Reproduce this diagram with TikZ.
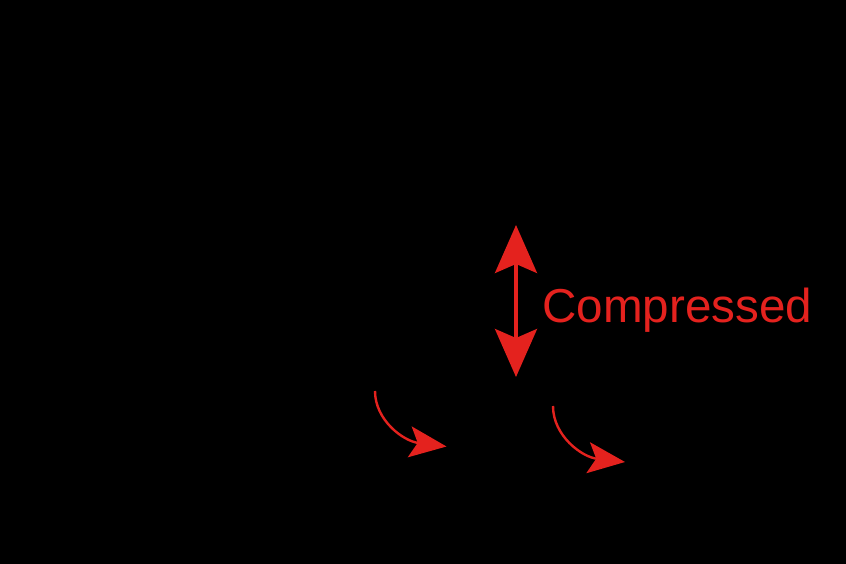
\documentclass[tikz,border=0pt]{standalone}
\usepackage{fontspec}
\setmainfont{Liberation Sans}
\usetikzlibrary{arrows.meta}
\definecolor{myred}{RGB}{228,34,30}
\tikzset{
  bigarrow/.style={draw=myred, line width=3.5pt, {Stealth[length=48pt,width=42pt,inset=9pt]}-{Stealth[length=48pt,width=42pt,inset=9pt]}},
  curvearrow/.style={draw=myred, line width=2.4pt, -{Stealth[length=37pt,width=31pt,inset=8pt]}},
  label/.style={text=myred, anchor=base west, inner sep=0pt, font=\fontsize{47.6}{56}\selectfont}
}
\begin{document}
\begin{tikzpicture}[x=1pt,y=-1pt]
\fill[black] (0,0) rectangle (846,564);
\useasboundingbox (0,0) rectangle (846,564);
\coordinate (dt) at (516,225);
\coordinate (db) at (516,377);
\draw[bigarrow] (dt) -- (db);
\node[label] (comp) at (542,322) {Compressed};
\coordinate (a1s) at (375,391);
\coordinate (a1e) at (446.5,446.5);
\draw[curvearrow] (a1s) .. controls (375,420) and (403,441) .. (a1e);
\coordinate (a2s) at (553,406);
\coordinate (a2e) at (625,462);
\draw[curvearrow] (a2s) .. controls (553,436) and (582,457) .. (a2e);
\end{tikzpicture}
\end{document}
